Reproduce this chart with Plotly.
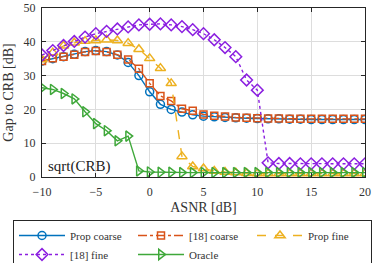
import plotly.graph_objects as go

asnr = list(range(-10, 21))

prop_coarse = [34.3, 35.0, 35.6, 36.3, 37.1, 37.4, 37.1, 36.1, 33.9, 30.0, 25.2, 21.5, 20.0, 19.2, 18.4,
               18.0, 17.8, 17.6, 17.5, 17.4, 17.3, 17.2, 17.2, 17.1, 17.1, 17.0, 17.0, 17.0, 17.0, 17.0, 17.0]
ref_coarse = [34.3, 35.1, 35.6, 36.2, 37.0, 37.3, 37.0, 36.2, 34.8, 32.0, 27.7, 24.0, 22.5, 20.2, 19.6,
              18.5, 18.1, 17.9, 17.6, 17.5, 17.4, 17.3, 17.3, 17.2, 17.2, 17.2, 17.2, 17.2, 17.2, 17.2, 17.2]
prop_fine = [34.8, 36.8, 38.8, 39.7, 40.2, 40.4, 40.6, 40.4, 39.6, 37.8, 35.1, 32.2, 27.7, 6.1, 3.1,
             2.5, 1.8, 1.5, 1.3, 1.1, 1.0, 1.0, 1.0, 1.0, 1.0, 1.0, 1.0, 1.0, 1.0, 1.0, 1.0]
ref_fine = [36.1, 37.4, 38.9, 40.1, 41.4, 42.4, 43.1, 43.8, 44.4, 45.0, 45.2, 45.3, 45.0, 44.5, 43.6,
            42.4, 40.6, 38.3, 35.6, 28.7, 25.7, 4.2, 4.0, 4.0, 3.9, 3.9, 3.9, 3.9, 3.9, 3.9, 3.9]
oracle = [26.4, 25.9, 24.7, 23.1, 19.3, 15.8, 13.7, 10.7, 12.1, 1.8, 1.5, 1.4, 1.4, 1.3, 1.3,
          1.3, 1.3, 1.3, 1.3, 1.3, 1.3, 1.3, 1.3, 1.3, 1.3, 1.3, 1.3, 1.3, 1.3, 1.3, 1.3]

series = [
    ("Prop coarse", prop_coarse, "#0072BD", "solid", "circle-open", 8),
    ("[18] coarse", ref_coarse, "#D95319", "dashdot", "square-open", 7),
    ("Prop fine", prop_fine, "#EDB120", "dash", "triangle-up-open", 9),
    ("[18] fine", ref_fine, "#8B1FE0", "dot", "diamond-open", 9),
    ("Oracle", oracle, "#3FA83A", "solid", "triangle-right-open", 9),
]

fig = go.Figure()
for name, ys, col, dash, sym, sz in series:
    fig.add_trace(go.Scatter(
        x=asnr, y=ys, name=name, mode="lines+markers",
        line=dict(color=col, width=1.4, dash=dash),
        marker=dict(symbol=sym, size=sz, color=col, line=dict(width=1.5, color=col)),
    ))

font = "Liberation Serif, DejaVu Serif, serif"
fig.add_annotation(x=-6.5, y=3.0, text="sqrt(CRB)", showarrow=False,
                   font=dict(family=font, size=15, color="#222"))

axis_common = dict(showgrid=True, gridcolor="#dddddd", gridwidth=1,
                   showline=True, linecolor="#262626", linewidth=1,
                   mirror="ticks", ticks="inside", ticklen=4, tickcolor="#262626",
                   zeroline=False, automargin=False,
                   tickfont=dict(family=font, size=12, color="#333"))

fig.update_xaxes(range=[-10, 20], tickvals=[-10, -5, 0, 5, 10, 15, 20],
                 ticklabelstandoff=4,
                 title=dict(text="ASNR [dB]", font=dict(family=font, size=14, color="#333"), standoff=3),
                 **axis_common)
fig.update_yaxes(range=[0, 50], tickvals=[0, 10, 20, 30, 40, 50],
                 ticklabelstandoff=3,
                 title=dict(text="Gap to CRB [dB]", font=dict(family=font, size=14, color="#333"), standoff=6),
                 **axis_common)

fig.update_layout(
    width=373, height=263,
    margin=dict(l=42, r=8, t=8, b=86, autoexpand=False),
    paper_bgcolor="white", plot_bgcolor="white",
    font=dict(family=font, size=12, color="#333"),
    legend=dict(orientation="h", xref="paper", yref="paper",
                x=-29/323, y=-43/169, xanchor="left", yanchor="top",
                entrywidth=58, entrywidthmode="pixels",
                bordercolor="#262626", borderwidth=1,
                font=dict(family=font, size=11, color="#333"),
                tracegroupgap=0, itemwidth=46),
)

fig.write_html("out.html", config={"displayModeBar": False},
               post_script="document.body.style.margin='0';document.body.style.padding='0';")
